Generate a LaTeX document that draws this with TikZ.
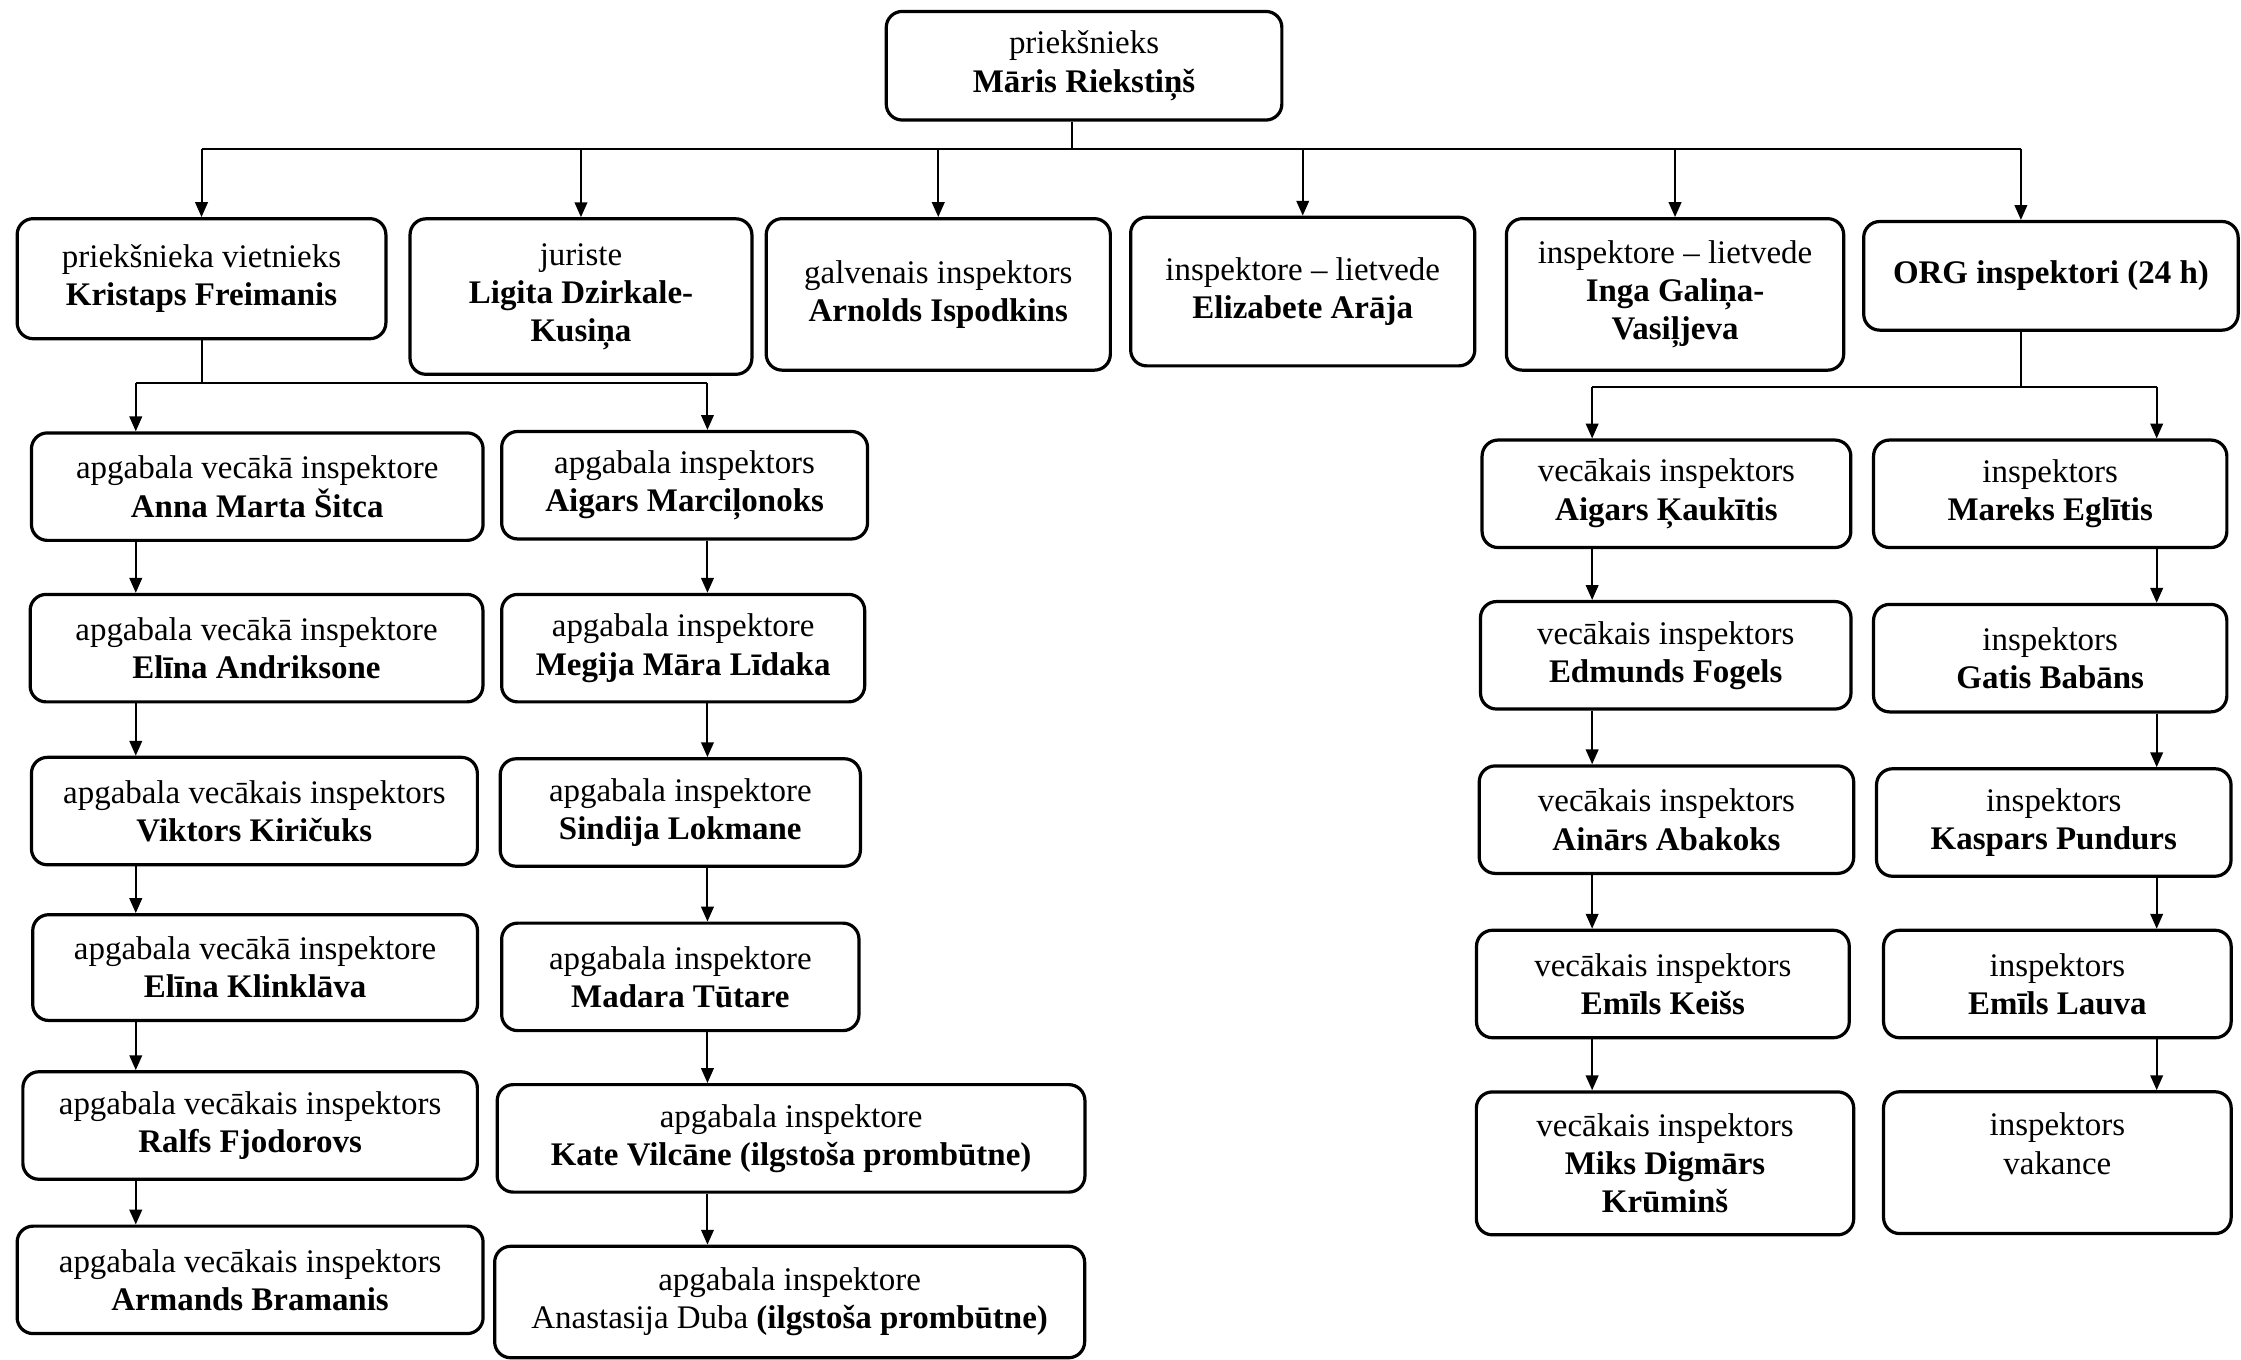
\documentclass[tikz,border=0pt]{standalone}
\usepackage{fontspec}
\setmainfont{Liberation Serif}
\usepackage{tikz}
\usetikzlibrary{positioning,arrows.meta}
\newcommand{\orgfont}{\fontsize{8.2}{9.5}\selectfont}
\begin{document}
\begin{tikzpicture}[x=0.125mm,y=-0.125mm]
\tikzstyle{every node}+=[inner sep=0pt]
\tikzstyle{orgbox}=[draw, rounded corners=1.4mm, line width=0.8pt, align=center, font=\orgfont]
\tikzstyle{wire}=[line width=0.5pt]
\tikzstyle{link}=[line width=0.5pt, -{Triangle[length=1.3mm,width=1.1mm]}]
\useasboundingbox (0,0) rectangle (1568,951);
\node[orgbox, minimum width=34.6mm, minimum height=9.5mm] (chief) at (758.5,46) {priekšnieks\\\textbf{Māris Riekstiņš}};
\node[orgbox, minimum width=32.25mm, minimum height=10.5mm] (deputy) at (141,195) {priekšnieka vietnieks\\\textbf{Kristaps Freimanis}};
\node[orgbox, minimum width=29.9mm, minimum height=13.6mm] (lawyer) at (406.5,207.5) {juriste\\\textbf{Ligita Dzirkale-}\\\textbf{Kusiņa}};
\node[orgbox, minimum width=30.1mm, minimum height=13.25mm] (chiefinsp) at (656.5,206) {galvenais inspektors\\\textbf{Arnolds Ispodkins}};
\node[orgbox, minimum width=30.1mm, minimum height=13mm] (clerka) at (911.5,204) {inspektore -- lietvede\\\textbf{Elizabete Arāja}};
\node[orgbox, minimum width=29.5mm, minimum height=13.25mm] (clerkb) at (1172,206) {inspektore -- lietvede\\\textbf{Inga Galiņa-}\\\textbf{Vasiļjeva}};
\node[orgbox, minimum width=32.75mm, minimum height=9.5mm] (org) at (1435,193) {\textbf{ORG inspektori (24 h)}};
\node[orgbox, minimum width=39.5mm, minimum height=9.4mm] (a1) at (180,340.5) {apgabala vecākā inspektore\\\textbf{Anna Marta Šitca}};
\node[orgbox, minimum width=39.6mm, minimum height=9.4mm] (a2) at (179.5,453.5) {apgabala vecākā inspektore\\\textbf{Elīna Andriksone}};
\node[orgbox, minimum width=39mm, minimum height=9.4mm] (a3) at (178,567.5) {apgabala vecākais inspektors\\\textbf{Viktors Kiričuks}};
\node[orgbox, minimum width=38.9mm, minimum height=9.25mm] (a4) at (178.5,677) {apgabala vecākā inspektore\\\textbf{Elīna Klinklāva}};
\node[orgbox, minimum width=39.75mm, minimum height=9.4mm] (a5) at (175,787.5) {apgabala vecākais inspektors\\\textbf{Ralfs Fjodorovs}};
\node[orgbox, minimum width=40.75mm, minimum height=9.4mm] (a6) at (175,895.5) {apgabala vecākais inspektors\\\textbf{Armands Bramanis}};
\node[orgbox, minimum width=32mm, minimum height=9.4mm] (b1) at (479,339.5) {apgabala inspektors\\\textbf{Aigars Marciļonoks}};
\node[orgbox, minimum width=31.75mm, minimum height=9.4mm] (b2) at (478,453.5) {apgabala inspektore\\\textbf{Megija Māra Līdaka}};
\node[orgbox, minimum width=31.5mm, minimum height=9.4mm] (b3) at (476,568.5) {apgabala inspektore\\\textbf{Sindija Lokmane}};
\node[orgbox, minimum width=31.25mm, minimum height=9.4mm] (b4) at (476,683.5) {apgabala inspektore\\\textbf{Madara Tūtare}};
\node[orgbox, minimum width=51.4mm, minimum height=9.4mm] (b5) at (553.5,796.5) {apgabala inspektore\\\textbf{Kate Vilcāne (ilgstoša prombūtne)}};
\node[orgbox, minimum width=51.6mm, minimum height=9.75mm] (b6) at (552.5,911) {apgabala inspektore\\Anastasija Duba \textbf{(ilgstoša prombūtne)}};
\node[orgbox, minimum width=32.25mm, minimum height=9.4mm] (c1) at (1166,345.5) {vecākais inspektors\\\textbf{Aigars Ķaukītis}};
\node[orgbox, minimum width=32.4mm, minimum height=9.4mm] (c2) at (1165.5,458.5) {vecākais inspektors\\\textbf{Edmunds Fogels}};
\node[orgbox, minimum width=32.75mm, minimum height=9.4mm] (c3) at (1166,573.5) {vecākais inspektors\\\textbf{Ainārs Abakoks}};
\node[orgbox, minimum width=32.6mm, minimum height=9.4mm] (c4) at (1163.5,688.5) {vecākais inspektors\\\textbf{Emīls Keišs}};
\node[orgbox, minimum width=33mm, minimum height=12.5mm] (c5) at (1165,814) {vecākais inspektors\\\textbf{Miks Digmārs}\\\textbf{Krūminš}};
\node[orgbox, minimum width=30.9mm, minimum height=9.4mm] (d1) at (1434.5,345.5) {inspektors\\\textbf{Mareks Eglītis}};
\node[orgbox, minimum width=30.9mm, minimum height=9.4mm] (d2) at (1434.5,460.5) {inspektors\\\textbf{Gatis Babāns}};
\node[orgbox, minimum width=31mm, minimum height=9.4mm] (d3) at (1437,575.5) {inspektors\\\textbf{Kaspars Pundurs}};
\node[orgbox, minimum width=30.4mm, minimum height=9.4mm] (d4) at (1439.5,688.5) {inspektors\\\textbf{Emīls Lauva}};
\node[orgbox, minimum width=30.4mm, minimum height=12.4mm] (d5) at (1439.5,813.5) {inspektors\\vakance\\\phantom{x}};
\coordinate (cola) at (95,0);
\coordinate (colb) at (495,0);
\coordinate (colc) at (1114,0);
\coordinate (cold) at (1509,0);
\coordinate (orgx) at (1414,0);
\draw[wire] (chief.south -| 750,0) -- ++(0,19) coordinate (bus0);
\draw[wire] (bus0 -| deputy.north) -- (bus0 -| orgx);
\foreach \n in {deputy,lawyer,chiefinsp,clerka,clerkb}
  \draw[link] (bus0 -| \n.north) -- (\n.north);
\draw[link] (bus0 -| orgx) -- (org.north -| orgx);
\draw[wire] (deputy.south) -- ++(0,30) coordinate (bus1);
\draw[wire] (bus1 -| cola) -- (bus1 -| colb);
\draw[link] (bus1 -| cola) -- (a1.north -| cola);
\draw[link] (bus1 -| colb) -- (b1.north -| colb);
\draw[wire] (org.south -| orgx) -- ++(0,39) coordinate (bus2);
\draw[wire] (bus2 -| colc) -- (bus2 -| cold);
\draw[link] (bus2 -| colc) -- (c1.north -| colc);
\draw[link] (bus2 -| cold) -- (d1.north -| cold);
\foreach \p/\q in {a1/a2,a2/a3,a3/a4,a4/a5,a5/a6}
  \draw[link] (\p.south -| cola) -- (\q.north -| cola);
\foreach \p/\q in {b1/b2,b2/b3,b3/b4,b4/b5,b5/b6}
  \draw[link] (\p.south -| colb) -- (\q.north -| colb);
\foreach \p/\q in {c1/c2,c2/c3,c3/c4,c4/c5}
  \draw[link] (\p.south -| colc) -- (\q.north -| colc);
\foreach \p/\q in {d1/d2,d2/d3,d3/d4,d4/d5}
  \draw[link] (\p.south -| cold) -- (\q.north -| cold);
\end{tikzpicture}
\end{document}
